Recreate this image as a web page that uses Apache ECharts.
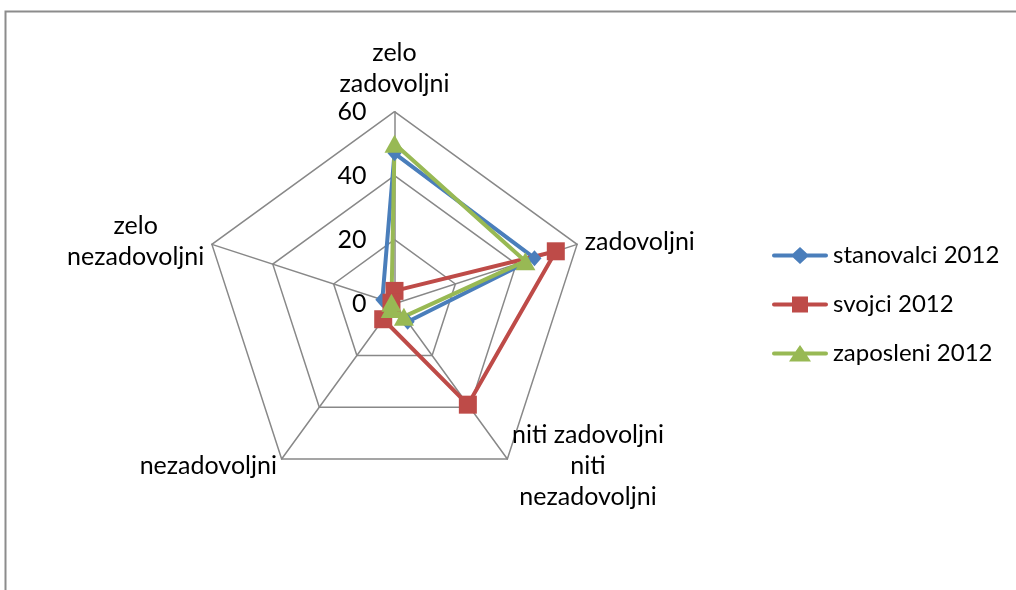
<!DOCTYPE html>
<html><head><meta charset="utf-8">
<script src="https://cdn.jsdelivr.net/npm/echarts@6/dist/echarts.min.js"></script>
<style>html,body{margin:0;padding:0;background:#fff}#c{width:1016px;height:590px}</style>
</head><body><div id="c"></div>
<script>
const categories = ['zelo\nzadovoljni', 'zadovoljni', 'niti zadovoljni\nniti\nnezadovoljni', 'nezadovoljni', 'zelo\nnezadovoljni'];
const seriesNames = ['stanovalci 2012', 'svojci 2012', 'zaposleni 2012'];
const stanovalci = [47, 46, 7, 2, 4];
const svojci = [4, 53, 39, 6, 1];
const zaposleni = [50, 43, 5, 2, 1];
const axisMax = 60;
const tickStep = 20;

const FONT = 'Lato, "Open Sans", sans-serif';
// ECharts places indicators counter-clockwise; keep the first, reverse the rest
const order = [0, 4, 3, 2, 1];
const reorder = arr => order.map(i => arr[i]);

const indicator = order.map((i, k) => ({
  name: categories[i], max: axisMax, min: 0,
  axisLabel: { show: k === 0 }
}));

const colors = ['#4a7ebb', '#be4b48', '#98b954'];
const symbols = ['diamond', 'rect', 'triangle'];
const symSizes = [[14, 16], 18, [20, 18]];
const values = [stanovalci, svojci, zaposleni];
// legend glyphs: line with marker in the middle (56 x 18 box)
const legendIcons = [
  'path://M2,7 H21 L28,0.5 L35,7 H54 A2,2 0 0 1 54,11 H35 L28,17.5 L21,11 H2 A2,2 0 0 1 2,7 Z M0,0 M56,18',
  'path://M2,7 H20 V1 H36 V7 H54 A2,2 0 0 1 54,11 H36 V17 H20 V11 H2 A2,2 0 0 1 2,7 Z M0,0 M56,18',
  'path://M2,7 H23.5 L28,0.5 L32.5,7 H54 A2,2 0 0 1 54,11 H35 L39,17 H17 L21,11 H2 A2,2 0 0 1 2,7 Z M0,0 M56,18'
];

const centerRich = { c: { align: 'center', fontSize: 25, lineHeight: 31, fontFamily: FONT, color: '#000' } };

const chart = echarts.init(document.getElementById('c'), null, { renderer: 'canvas' });
chart.setOption({
  animation: false,
  textStyle: { fontFamily: FONT },
  graphic: [{
    type: 'rect', shape: { x: 5.5, y: 11.5, width: 1040, height: 620 },
    style: { fill: 'none', stroke: '#8c8c8c', lineWidth: 2 }, silent: true, z: -10
  }],
  legend: {
    orient: 'vertical', left: 767, top: 238, itemGap: 24,
    itemWidth: 56, itemHeight: 18,
    textStyle: { fontFamily: FONT, fontSize: 24, lineHeight: 25, color: '#000' },
    data: seriesNames.map((n, i) => ({ name: n, icon: legendIcons[i], itemStyle: { color: colors[i] } }))
  },
  radar: {
    center: [394.5, 303.7], radius: 192, startAngle: 90,
    splitNumber: axisMax / tickStep,
    shape: 'polygon',
    indicator: indicator,
    axisName: {
      color: '#000', fontSize: 25, fontFamily: FONT, lineHeight: 31,
      formatter: v => v.split('\n').map(s => '{c|' + s + '}').join('\n'),
      rich: centerRich
    },
    nameGap: 8,
    axisLine: { lineStyle: { color: '#888', width: 1.5 } },
    splitLine: { lineStyle: { color: '#888', width: 1.5 } },
    splitArea: { show: false },
    axisTick: { show: false },
    axisLabel: { color: '#000', fontSize: 25, fontFamily: FONT, margin: 28, showMinLabel: true }
  },
  series: [{
    type: 'radar',
    data: values.map((v, i) => ({
      name: seriesNames[i], value: reorder(v),
      symbol: symbols[i], symbolSize: symSizes[i],
      lineStyle: { color: colors[i], width: 4 },
      itemStyle: { color: colors[i] }
    }))
  }]
});
</script></body></html>
